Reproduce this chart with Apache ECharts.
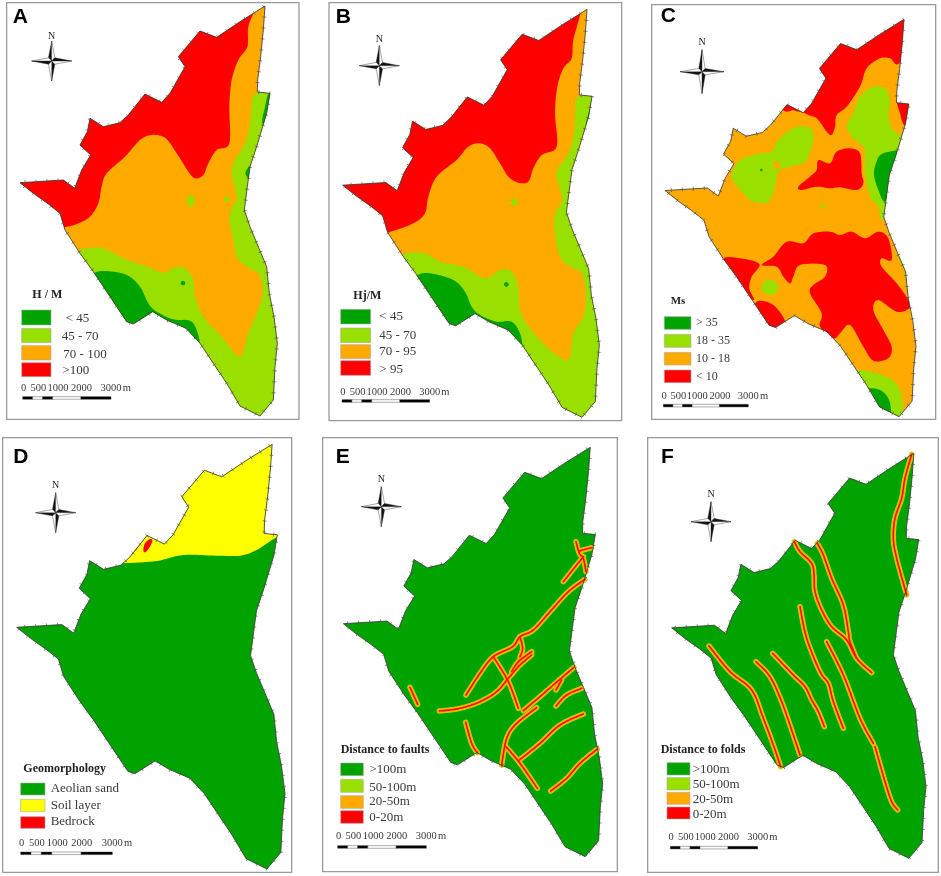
<!DOCTYPE html>
<html>
<head>
<meta charset="utf-8">
<title>Site factor maps</title>
<style>
  html, body { margin: 0; padding: 0; background: #fff; }
  #chart { width: 941px; height: 876px; }
</style>
<script src="https://cdn.jsdelivr.net/npm/echarts@6/dist/echarts.min.js"></script>
</head>
<body>
<div id="chart"></div>
<script>
// ==================== Map data (traced units: 3 per pixel of a panel crop) ====================

const siteBoundary = [[795,18],[790,90],[782,170],[773,240],[772,276],[810,280],[800,340],[785,390],[770,440],[750,500],[742,560],[733,630],[750,680],[775,740],[800,800],[808,880],[822,950],[832,1030],[825,1100],[820,1200],[780,1248],[720,1218],[680,1150],[640,1090],[600,1030],[558,985],[500,960],[458,935],[400,972],[380,965],[330,890],[280,815],[240,760],[195,690],[180,640],[145,612],[100,580],[60,548],[190,540],[224,565],[245,510],[272,465],[240,435],[262,395],[270,355],[310,380],[360,368],[385,345],[435,282],[485,307],[510,280],[555,200],[535,170],[600,93],[650,112],[720,65]];

// Panel A: H / M
const hmRed = [[765,25],[745,80],[742,140],[715,180],[695,240],[688,320],[688,430],[650,450],[625,490],[610,525],[585,535],[565,515],[540,475],[510,430],[490,410],[455,405],[420,420],[375,470],[320,520],[305,560],[295,610],[270,650],[235,670],[195,682],[100,700],[0,560],[200,300],[500,100],[770,-30]];
const hmLight = [[772,280],[755,320],[750,370],[735,430],[705,480],[695,520],[705,565],[710,600],[695,625],[688,660],[700,720],[710,770],[740,800],[778,825],[788,880],[770,940],[745,1000],[725,1068],[705,1060],[660,1005],[610,950],[585,890],[580,840],[555,805],[525,802],[490,818],[440,800],[370,775],[310,745],[260,745],[232,755],[200,800],[400,1100],[780,1300],[900,1100],[900,280]];
const hmDark = [[280,820],[320,813],[380,825],[420,860],[445,910],[470,935],[520,958],[570,962],[590,990],[600,1035],[590,1060],[400,1000],[250,850]];
const hmDarkNorth = [[807,278],[795,320],[788,372],[830,370],[830,270]];
const hmDarkEast = [[736,518],[752,495],[765,488],[762,540],[748,538]];
const hmSpots = [[572,603,12,17,'light'],[680,597,8,9,'light'],[549,849,7,7,'dark']];

// Panel B: Hj/M
const hjRed = [[782,35],[760,120],[755,175],[730,205],[712,260],[705,340],[710,440],[665,465],[640,505],[625,545],[595,548],[565,530],[540,490],[510,445],[480,430],[445,440],[410,480],[350,530],[325,590],[315,640],[280,670],[205,697],[100,720],[30,560],[220,300],[500,60],[782,-20]];
const hjLight = [[780,288],[765,340],[762,400],[745,460],[715,505],[710,530],[720,570],[725,605],[705,645],[705,700],[720,770],[750,800],[785,820],[798,890],[790,950],[760,1000],[750,1070],[730,1078],[680,1040],[630,985],[600,930],[595,860],[575,815],[540,810],[495,835],[430,800],[360,785],[320,762],[280,757],[248,765],[210,800],[400,1100],[780,1300],[900,1100],[900,288]];
const hjDark = [[292,825],[330,820],[400,840],[435,875],[455,920],[480,945],[530,965],[575,965],[600,1000],[607,1045],[590,1060],[400,1000],[270,850]];
const hjDarkNorth = [[820,285],[808,330],[800,378],[840,370],[840,275]];
const hjSpots = [[583,607,10,11,'light'],[559,853,7,7,'dark']];

// Panel C: Ms
const msRedNorth = [[525,340],[560,355],[590,395],[605,405],[615,380],[620,345],[650,320],[690,260],[710,205],[750,175],[780,175],[808,190],[860,100],[820,30],[600,100],[480,300]];
const msRedTip = [[455,325],[470,312],[492,326],[470,335]];
const msRedEdge = [[803,300],[850,300],[840,380],[820,372],[810,340]];
const msLightEast = [[650,375],[670,340],[690,290],[730,260],[765,265],[780,300],[775,350],[790,390],[815,405],[860,400],[850,620],[760,660],[745,620],[720,590],[705,520],[705,470],[700,440],[665,410]];
const msDarkEast = [[738,490],[755,462],[810,450],[860,450],[800,560],[765,605],[745,570],[732,525]];
const msLightWest = [[305,530],[325,485],[380,462],[425,455],[445,420],[490,385],[530,380],[550,400],[545,440],[525,485],[480,500],[445,515],[435,560],[415,605],[370,605],[340,580],[315,550]];
const msRedCentre = [[505,560],[540,530],[560,510],[565,480],[600,490],[620,455],[660,445],[690,460],[695,520],[700,550],[680,570],[630,562],[600,565],[560,560],[515,570]];
const msRedSouth = [[395,795],[430,770],[470,725],[520,730],[550,700],[600,695],[630,705],[665,695],[705,715],[745,695],[775,715],[785,780],[755,775],[755,800],[800,850],[835,900],[838,925],[800,935],[745,900],[730,930],[760,990],[785,1040],[775,1075],[730,1082],[700,1040],[660,975],[630,1000],[610,1015],[570,980],[575,940],[540,880],[550,855],[585,830],[585,795],[510,795],[490,830],[480,850],[460,830],[440,800]];
const msRedWest = [[280,778],[330,775],[388,792],[365,830],[358,865],[370,900],[300,850]];
const msRedSouthWest = [[380,905],[430,915],[465,965],[440,990],[370,960]];
const msLightSliver = [[805,775],[820,800],[830,850],[860,850],[840,770]];
const msLightSouth = [[672,1110],[720,1115],[780,1135],[810,1170],[820,1240],[810,1270],[700,1200],[650,1120]];
const msDarkSouth = [[712,1165],[750,1170],[775,1195],[783,1230],[780,1270],[700,1240],[690,1180]];
const msSpots = [[440,495,11,13,'orange'],[394,510,4,4,'dark'],[578,620,6,6,'light'],[420,862,25,23,'light']];

// Panel D: Geomorphology
const geoSoil = [[370,385],[470,378],[550,360],[650,362],[720,362],[770,345],[833,305],[900,280],[850,-20],[500,-20],[300,350],[350,390]];
const geoBedrock = [[430,345],[435,325],[450,312],[457,318],[447,340],[435,352]];
const geoBedrockSmall = [[400,345],[412,330],[415,335],[405,348]];

// Panel E: faults
const faultLines = [
  [[768,320],[778,355],[790,370],[798,410]],
  [[778,348],[815,338]],
  [[730,440],[770,390],[790,365]],
  [[795,433],[745,470],[690,530],[640,585],[600,605],[578,635],[520,665],[480,715],[438,780]],
  [[600,605],[608,640],[600,665]],
  [[635,650],[595,680],[575,710]],
  [[635,660],[600,690],[565,730],[530,770],[480,800],[420,820],[358,828]],
  [[520,665],[565,740],[595,820]],
  [[762,697],[700,750],[660,785],[610,827]],
  [[725,735],[708,765]],
  [[785,760],[740,780],[708,813]],
  [[650,818],[590,865],[560,910],[545,990]],
  [[790,837],[720,870],[660,925],[598,975]],
  [[558,935],[600,985],[652,1060]],
  [[832,942],[780,985],[740,1030],[692,1068]],
  [[437,862],[455,925],[472,953]],
  [[270,757],[293,808]]
];

// Panel F: folds
const foldLines = [
  [[845,58],[825,130],[815,190],[795,250],[790,310],[800,370],[830,480]],
  [[493,320],[510,350],[545,385],[552,420],[555,470],[575,525],[605,575],[650,615],[680,670],[725,713]],
  [[562,325],[580,360],[605,430],[640,510],[655,590],[660,620],[680,670]],
  [[510,515],[530,610],[570,710],[595,745],[610,800],[640,880]],
  [[590,620],[640,720],[690,850],[730,925]],
  [[735,935],[765,1040],[785,1100],[803,1125]],
  [[428,655],[490,720],[525,755],[545,795],[565,830],[583,875]],
  [[378,680],[420,725],[455,800],[490,900],[510,960]],
  [[237,633],[300,710],[365,765],[400,850],[430,930],[452,995]]
];

// ==================== Legend text ====================

const hmLabels = ['< 45', '45 - 70', '70 - 100', '>100'];
const hjLabels = ['< 45', '45 - 70', '70 - 95', '> 95'];
const msLabels = ['> 35', '18 - 35', '10 - 18', '< 10'];
const geoLabels = ['Aeolian sand', 'Soil layer', 'Bedrock'];
const distLabels = ['>100m', '50-100m', '20-50m', '0-20m'];
const scaleLabels = ['0', '500', '1000', '2000', '3000', 'm'];

// ==================== Styling ====================

const COLORS = {
  dark: '#00a400', light: '#99e000', orange: '#ffaa00', red: '#ff0000',
  yellow: '#ffff00', green: '#00a300', frame: '#9a9a9a', text: '#3a3a3a'
};
const BASE_BBOX = [60, 832, 18, 1248];
const SERIF = '"Liberation Serif", serif';
const SANS = '"Liberation Sans", sans-serif';

const PANELS = [
  {
    letter: 'A', crop: [0, 0, 310, 430], frame: [20, 8, 897, 1258], bbox: [60, 832, 18, 1248], base: COLORS.orange,
    letterAt: [38, 82], compass: [155, 183, 20], north: 108,
    layers: [[hmRed, 'red'], [hmLight, 'light'], [hmDark, 'dark'], [hmDarkNorth, 'dark'], [hmDarkEast, 'dark']], spots: hmSpots,
    title: ['H / M', 97, 886], size: 13,
    swatchX: [65, 153], swatchY: [[930, 975], [985, 1028], [1037, 1080], [1088, 1130]],
    labels: hmLabels, labelX: [197, 185, 190, 187], labelY: [955, 1010, 1063, 1113], colors: ['dark', 'light', 'orange', 'red'],
    scale: [68, 1194, 265, 1165]
  },
  {
    letter: 'B', crop: [320, 0, 310, 430], frame: [27, 8, 905, 1262], bbox: [68, 838, 28, 1252], base: COLORS.orange,
    letterAt: [47, 82], compass: [178, 197, 20], north: 117,
    layers: [[hjRed, 'red'], [hjLight, 'light'], [hjDark, 'dark'], [hjDarkNorth, 'dark']], spots: hjSpots,
    title: ['Hj/M', 100, 888], size: 13,
    swatchX: [62, 152], swatchY: [[928, 972], [984, 1028], [1034, 1076], [1082, 1126]],
    labels: hjLabels, labelX: [178, 178, 178, 178], labelY: [950, 1006, 1056, 1108], colors: ['dark', 'light', 'orange', 'red'],
    scale: [66, 1203, 263, 1178]
  },
  {
    letter: 'C', crop: [630, 0, 311, 430], frame: [65, 14, 917, 1258], bbox: [105, 858, 58, 1250], base: COLORS.orange,
    letterAt: [92, 80], compass: [216, 215, 22], north: 127,
    layers: [[msRedNorth, 'red'], [msRedTip, 'red'], [msRedEdge, 'red'], [msLightEast, 'light'], [msDarkEast, 'dark'], [msLightWest, 'light'], [msRedCentre, 'red'], [msRedSouth, 'red'], [msRedWest, 'red'], [msRedSouthWest, 'red'], [msLightSliver, 'light'], [msLightSouth, 'light'], [msDarkSouth, 'dark']], spots: msSpots,
    title: ['Ms', 122, 904], size: 12,
    swatchX: [103, 183], swatchY: [[950, 988], [1003, 1042], [1057, 1095], [1110, 1148]],
    labels: msLabels, labelX: [198, 198, 198, 198], labelY: [970, 1024, 1076, 1130], colors: ['dark', 'light', 'orange', 'red'],
    scale: [100, 1217, 255, 1188]
  },
  {
    letter: 'D', crop: [0, 435, 310, 440], frame: [8, 8, 875, 1312], bbox: [50, 855, 28, 1302], base: COLORS.green,
    letterAt: [40, 98], compass: [167, 233, 20], north: 151,
    layers: [[geoSoil, 'yellow'], [geoBedrock, 'red'], [geoBedrockSmall, 'red']], spots: [],
    title: ['Geomorphology', 70, 1002], size: 13,
    swatchX: [62, 135], swatchY: [[1044, 1080], [1093, 1130], [1145, 1180]],
    labels: geoLabels, labelX: [152, 152, 152], labelY: [1062, 1113, 1161], colors: ['green', 'yellow', 'red'],
    scale: [62, 1255, 275, 1226]
  },
  {
    letter: 'E', crop: [320, 435, 310, 440], frame: [8, 8, 892, 1310], bbox: [70, 848, 37, 1265], base: COLORS.green,
    letterAt: [47, 98], compass: [184, 215, 20], north: 133,
    layers: [], spots: [], lines: faultLines,
    title: ['Distance to faults', 62, 946], size: 13,
    swatchX: [62, 130], swatchY: [[984, 1022], [1033, 1072], [1082, 1120], [1127, 1165]],
    labels: distLabels, labelX: [148, 148, 148, 148], labelY: [1005, 1057, 1101, 1148], colors: ['green', 'light', 'orange', 'red'],
    scale: [53, 1236, 266, 1205]
  },
  {
    letter: 'F', crop: [630, 435, 311, 440], frame: [53, 8, 925, 1312], bbox: [125, 888, 55, 1270], base: COLORS.green,
    letterAt: [93, 98], compass: [243, 260, 20], north: 178,
    layers: [], spots: [], lines: foldLines,
    title: ['Distance to folds', 92, 944], size: 13,
    swatchX: [111, 180], swatchY: [[983, 1020], [1028, 1065], [1072, 1108], [1116, 1152]],
    labels: distLabels, labelX: [188, 188, 188, 188], labelY: [1004, 1048, 1093, 1138], colors: ['green', 'light', 'orange', 'red'],
    scale: [121, 1238, 262, 1208]
  }
];

// ==================== Map series ====================

/** Fit the traced boundary to the extent it has in one panel */
function fitBoundary(bbox) {
  const sx = (bbox[1] - bbox[0]) / (BASE_BBOX[1] - BASE_BBOX[0]);
  const sy = (bbox[3] - bbox[2]) / (BASE_BBOX[3] - BASE_BBOX[2]);
  return siteBoundary.map(p => [bbox[0] + (p[0] - BASE_BBOX[0]) * sx, bbox[2] + (p[1] - BASE_BBOX[2]) * sy]);
}

/** Small marks across the boundary, as in the original GIS export */
function boundaryTicks(points, step, half) {
  const ticks = [];
  let carry = 0;
  points.forEach((a, i) => {
    const b = points[(i + 1) % points.length];
    const len = Math.hypot(b[0] - a[0], b[1] - a[1]);
    const ux = (b[0] - a[0]) / len, uy = (b[1] - a[1]) / len;
    let d = step - carry;
    while (d < len) {
      const x = a[0] + ux * d, y = a[1] + uy * d;
      ticks.push([[x - uy * half, y + ux * half], [x + uy * half, y - ux * half]]);
      d += step;
    }
    carry = (carry + len) % step;
  });
  return ticks;
}

/** Round a traced contour for drawing (Catmull-Rom through its vertices) */
function curve(pts, closed) {
  const n = pts.length;
  const at = i => closed ? pts[(i + n) % n] : pts[Math.max(0, Math.min(n - 1, i))];
  const out = [];
  const last = closed ? n : n - 1;
  for (let i = 0; i < last; i++) {
    const p0 = at(i - 1), p1 = at(i), p2 = at(i + 1), p3 = at(i + 2);
    for (let s = 0; s < 8; s++) {
      const t = s / 8, t2 = t * t, t3 = t2 * t;
      out.push([0, 1].map(k => 0.5 * (2 * p1[k] + (p2[k] - p0[k]) * t +
        (2 * p0[k] - 5 * p1[k] + 4 * p2[k] - p3[k]) * t2 +
        (3 * p1[k] - p0[k] - 3 * p2[k] + p3[k]) * t3)));
    }
  }
  if (!closed) out.push(pts[n - 1]);
  return out;
}

function buildSeries(panel, index) {
  const outline = fitBoundary(panel.bbox);
  const ticks = boundaryTicks(outline, 33, 6);
  const lines = (panel.lines || []).map(l => curve(l, false));
  const layers = panel.layers.map(([pts, color]) => [curve(pts, true), color]);

  const renderItem = (params, api) => {
    const toPx = pts => pts.map(p => api.coord(p));
    const clipShape = toPx(outline);
    const clip = () => ({ type: 'polygon', shape: { points: clipShape } });
    const children = [];

    children.push({ type: 'polygon', shape: { points: clipShape }, style: { fill: panel.base } });
    layers.forEach(([pts, color]) => {
      children.push({
        type: 'polygon',
        shape: { points: toPx(pts) },
        style: { fill: COLORS[color] },
        clipPath: clip()
      });
    });
    panel.spots.forEach(([cx, cy, rx, ry, color]) => {
      const c = api.coord([cx, cy]);
      const e = api.coord([cx + rx, cy + ry]);
      children.push({
        type: 'ellipse',
        shape: { cx: c[0], cy: c[1], rx: e[0] - c[0], ry: e[1] - c[1] },
        style: { fill: COLORS[color] }
      });
    });
    [['#b4dc10', 5.4], [COLORS.orange, 4.2], ['#f01000', 1.6]].forEach(([stroke, lineWidth]) => {
      lines.forEach(line => {
        children.push({
          type: 'polyline',
          shape: { points: toPx(line) },
          style: { fill: null, stroke, lineWidth, lineCap: 'round', lineJoin: 'round' }
        });
      });
    });
    children.push({
      type: 'polygon',
      shape: { points: clipShape },
      style: { fill: null, stroke: '#333', lineWidth: 0.8 }
    });
    ticks.forEach(t => {
      const a = api.coord(t[0]), b = api.coord(t[1]);
      children.push({
        type: 'line',
        shape: { x1: a[0], y1: a[1], x2: b[0], y2: b[1] },
        style: { stroke: '#555', lineWidth: 0.7 }
      });
    });
    return { type: 'group', children };
  };

  return {
    type: 'custom',
    xAxisIndex: index,
    yAxisIndex: index,
    coordinateSystem: 'cartesian2d',
    clip: false,
    silent: true,
    animation: false,
    renderItem,
    data: [[panel.bbox[0], panel.bbox[2]]]
  };
}

// ==================== Frame, compass, legend, scale bar ====================

function compass(px, py, cx, cy, arm, northY) {
  const X = px(cx), Y = py(cy), w = 3.2;
  const tri = (pts, fill) => ({
    type: 'polygon',
    shape: { points: pts.map(p => [X + p[0], Y + p[1]]) },
    style: { fill, stroke: '#222', lineWidth: 0.4 }
  });
  return [
    tri([[0, -arm], [0, 0], [-w, -w]], '#111'), tri([[0, -arm], [0, 0], [w, -w]], '#fff'),
    tri([[0, arm], [0, 0], [w, w]], '#111'), tri([[0, arm], [0, 0], [-w, w]], '#fff'),
    tri([[-arm, 0], [0, 0], [-w, w]], '#111'), tri([[-arm, 0], [0, 0], [-w, -w]], '#fff'),
    tri([[arm, 0], [0, 0], [w, -w]], '#111'), tri([[arm, 0], [0, 0], [w, w]], '#fff'),
    {
      type: 'text', x: X, y: py(northY),
      style: { text: 'N', font: '10px ' + SERIF, fill: '#222', align: 'center', verticalAlign: 'middle' }
    }
  ];
}

function decorations(panel) {
  const px = v => panel.crop[0] + v / 3;
  const py = v => panel.crop[1] + v / 3;
  const out = [];
  const f = panel.frame;
  out.push({
    type: 'rect',
    shape: { x: px(f[0]), y: py(f[1]), width: (f[2] - f[0]) / 3, height: (f[3] - f[1]) / 3 },
    style: { fill: null, stroke: COLORS.frame, lineWidth: 1.3 }
  });
  out.push({
    type: 'text', x: px(panel.letterAt[0]), y: py(panel.letterAt[1]),
    style: { text: panel.letter, font: 'bold 21px ' + SANS, fill: '#000', verticalAlign: 'bottom' }
  });
  out.push(...compass(px, py, panel.compass[0], panel.compass[1], panel.compass[2], panel.north));

  out.push({
    type: 'text', x: px(panel.title[1]), y: py(panel.title[2]),
    style: { text: panel.title[0], font: 'bold ' + (panel.size - 1) + 'px ' + SERIF, fill: '#222', verticalAlign: 'middle' }
  });
  panel.labels.forEach((label, i) => {
    const y = panel.swatchY[i];
    out.push({
      type: 'rect',
      shape: { x: px(panel.swatchX[0]), y: py(y[0]), width: (panel.swatchX[1] - panel.swatchX[0]) / 3, height: (y[1] - y[0]) / 3 },
      style: { fill: COLORS[panel.colors[i]], stroke: '#a8a8a8', lineWidth: 0.6 }
    });
    out.push({
      type: 'text', x: px(panel.labelX[i]), y: py(panel.labelY[i]),
      style: { text: label, font: panel.size + 'px ' + SERIF, fill: COLORS.text, verticalAlign: 'middle' }
    });
  });

  const [sx, sy, sw, ty] = panel.scale;
  [[0, 0.113, '#000'], [0.113, 0.226, '#fff'], [0.226, 0.34, '#000'], [0.34, 0.66, '#fff'], [0.66, 1, '#000']].forEach(([a, b, fill]) => {
    out.push({
      type: 'rect',
      shape: { x: px(sx + sw * a), y: py(sy - 4), width: sw * (b - a) / 3, height: 2.6 },
      style: { fill, stroke: '#333', lineWidth: 0.4 }
    });
  });
  [0.01, 0.177, 0.40, 0.667, 1].forEach((frac, i) => {
    out.push({
      type: 'text', x: px(sx + sw * frac), y: py(ty),
      style: { text: scaleLabels[i], font: '10.5px ' + SERIF, fill: COLORS.text, align: 'center', verticalAlign: 'middle' }
    });
  });
  out.push({
    type: 'text', x: px(sx + sw + 35), y: py(ty),
    style: { text: scaleLabels[5], font: '10.5px ' + SERIF, fill: COLORS.text, verticalAlign: 'middle' }
  });
  return out;
}

// ==================== Chart ====================

const chart = echarts.init(document.getElementById('chart'), null, { renderer: 'canvas' });

chart.setOption({
  backgroundColor: '#fff',
  animation: false,
  grid: PANELS.map(p => ({ left: p.crop[0], top: p.crop[1], width: p.crop[2], height: p.crop[3] })),
  xAxis: PANELS.map((p, i) => ({ type: 'value', gridIndex: i, min: 0, max: p.crop[2] * 3, show: false })),
  yAxis: PANELS.map((p, i) => ({ type: 'value', gridIndex: i, min: 0, max: p.crop[3] * 3, inverse: true, show: false })),
  series: PANELS.map(buildSeries),
  graphic: { elements: PANELS.flatMap(decorations) }
});
</script>
</body>
</html>
